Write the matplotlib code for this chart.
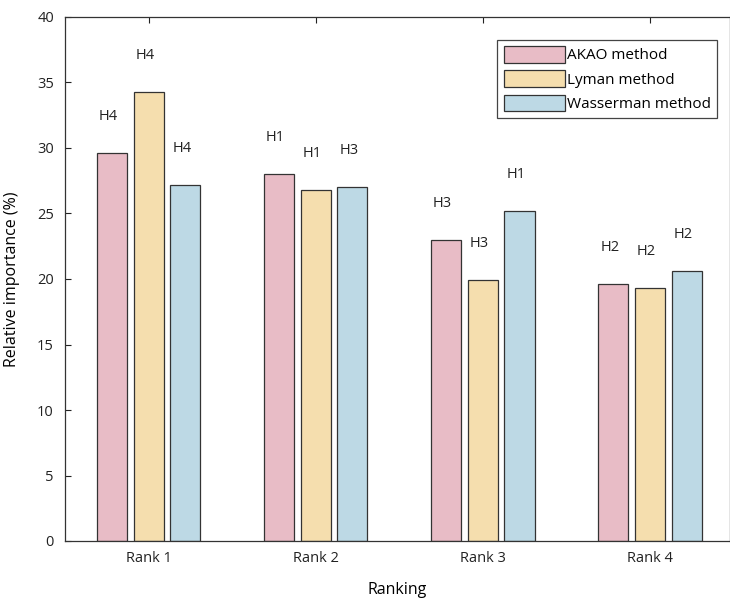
import numpy as np
import matplotlib
matplotlib.use('Agg')
import matplotlib.pyplot as plt

plt.rcParams['font.family'] = ['Open Sans', 'DejaVu Sans']

# --- data ---
ranks = ['Rank 1', 'Rank 2', 'Rank 3', 'Rank 4']
methods = ['AKAO method', 'Lyman method', 'Wasserman method']
akao = [29.6, 28.0, 23.0, 19.6]
lyman = [34.3, 26.8, 19.9, 19.3]
wasserman = [27.2, 27.0, 25.2, 20.6]
akao_lbl = ['H4', 'H1', 'H3', 'H2']
lyman_lbl = ['H4', 'H1', 'H3', 'H2']
wasserman_lbl = ['H4', 'H3', 'H1', 'H2']

colors = ['#e8bcc6', '#f5deae', '#bdd9e5']

fig = plt.figure(figsize=(7.3, 5.98), dpi=100)
ax = fig.add_axes([65 / 730, 1 - 541 / 598, 665 / 730, 524 / 598])

x = np.arange(1, len(ranks) + 1)
width = 0.18
step = 0.22
series = [(akao, akao_lbl), (lyman, lyman_lbl), (wasserman, wasserman_lbl)]
for i, (vals, lbls) in enumerate(series):
    pos = x + (i - 1) * step
    ax.bar(pos, vals, width, color=colors[i], edgecolor='#333333',
           linewidth=0.9, label=methods[i], zorder=2)
    for px, v, t in zip(pos, vals, lbls):
        ax.text(px - 0.02, v + 2.2, t, ha='center', va='bottom', fontsize=10.5,
                color='#222222')

ax.set_xlim(0.5, 4.48)
ax.set_ylim(0, 40)
ax.set_yticks(np.arange(0, 41, 5))
ax.set_xticks(x)
ax.set_xticklabels(ranks)
ax.tick_params(direction='in', top=True, right=False, labelsize=10.5,
               colors='#222222', length=4)
ax.tick_params(axis='y', pad=8)
ax.tick_params(axis='x', pad=7)
for s in ax.spines.values():
    s.set_color('#333333')
    s.set_linewidth(0.9)

ax.set_ylabel('Relative importance (%)', fontsize=11.5, labelpad=12)
ax.set_xlabel('Ranking', fontsize=11.5, labelpad=12)

leg = ax.legend(loc='upper right', bbox_to_anchor=(0.992, 0.971),
                fancybox=False, edgecolor='#444444', framealpha=1,
                handlelength=4.0, handleheight=1.3, handletextpad=0.15,
                labelspacing=0.45, fontsize=11, borderpad=0.4,
                borderaxespad=0.5)
leg.get_frame().set_linewidth(0.9)

plt.savefig('out.png', dpi=100)
